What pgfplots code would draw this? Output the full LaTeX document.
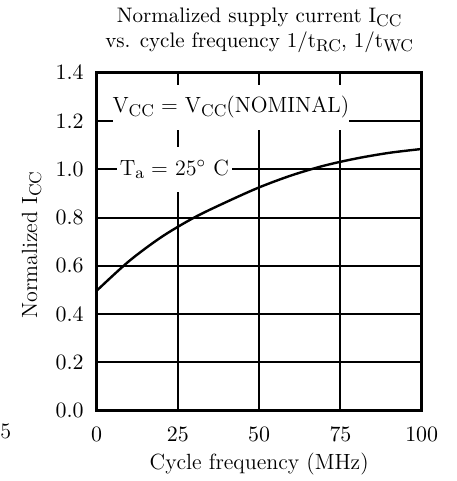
\documentclass[border=0pt]{standalone}
\usepackage{pgfplots}
\pgfplotsset{compat=1.18}
\newcommand{\sub}[1]{\raisebox{-0.4ex}{\fontsize{8.5}{9}\selectfont #1}}

\begin{document}
\begin{tikzpicture}
\begin{axis}[
  scale only axis, width=162.5pt, height=169pt,
  xmin=0, xmax=100, ymin=0, ymax=1.4,
  xtick={0,25,50,75,100}, ytick={0,0.2,...,1.4},
  yticklabel style={/pgf/number format/fixed, /pgf/number format/fixed zerofill,
    /pgf/number format/precision=1},
  grid=major, grid style={black, line width=1pt},
  axis line style={line width=1.5pt},
  major tick length=0pt,
  tick label style={font=\fontsize{11}{12}\selectfont},
  xticklabel style={yshift=-5pt},
  yticklabel style={xshift=-3pt},
  label style={font=\fontsize{11}{12}\selectfont},
  xlabel={Cycle frequency (MHz)},
  ylabel={Normalized I\sub{CC}},
  xlabel style={at={(rel axis cs:0.5,-0.158)}, anchor=center},
  ylabel style={at={(rel axis cs:-0.2,0.49)}, anchor=center},
  clip=false,
]
\addplot[black, line width=1.2pt, smooth] coordinates {
  (0,0.497) (10,0.620) (20,0.720) (30,0.800) (40,0.865) (50,0.925)
  (60,0.975) (70,1.015) (80,1.045) (90,1.068) (100,1.084)};

\node[fill=white, minimum width=114pt, minimum height=22.5pt, inner sep=0pt,
  font=\fontsize{11}{12}\selectfont] at (axis cs:41.3,1.256)
  {V\sub{CC} = V\sub{CC}(NOMINAL)};
\node[fill=white, minimum width=57.5pt, minimum height=22.5pt, inner sep=0pt,
  font=\fontsize{11}{12}\selectfont] at (axis cs:23.9,1.0)
  {T\sub{a} = 25$^\circ$ C};

\node[align=center, font=\fontsize{10.5}{12.5}\selectfont] at (rel axis cs:0.5,1.125)
  {Normalized supply current I\sub{CC}\\vs. cycle frequency 1/t\sub{RC}, 1/t\sub{WC}};

\node[anchor=west, inner sep=0pt, font=\fontsize{11}{12}\selectfont] at (rel axis cs:-0.2975,-0.062) {5};

\coordinate (bl) at (rel axis cs:-0.2975,-0.208);
\coordinate (tr) at (rel axis cs:1.1055,1.215);
\end{axis}
\pgfresetboundingbox
\useasboundingbox (bl) rectangle (tr);
\end{tikzpicture}
\end{document}
